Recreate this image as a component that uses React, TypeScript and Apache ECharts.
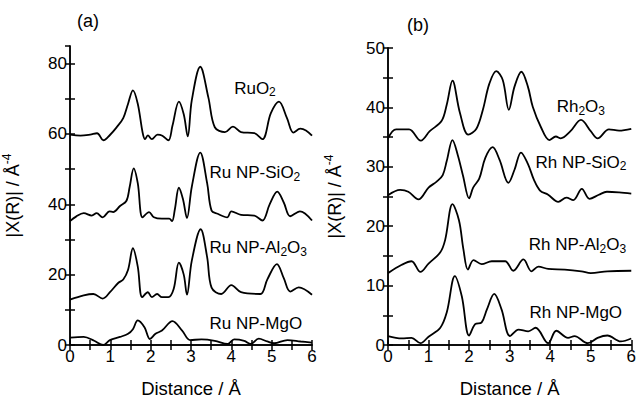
import React, { useEffect, useRef } from 'react';
import * as echarts from 'echarts';

const FONT = '"Liberation Sans", Arial, Helvetica, sans-serif';

// Panel (a): Ru samples, [distance (Å), |X(R)|]
const ruO2: number[][] = [[0,59.8],[0.26,59.5],[0.5,59.8],[0.67,60.2],[0.83,58.2],[0.99,59.7],[1.15,61.8],[1.32,64.5],[1.44,68.6],[1.56,72.4],[1.68,68.6],[1.80,60.4],[1.86,58.5],[1.93,59.6],[2.03,58.5],[2.17,59.8],[2.29,59.5],[2.44,58.2],[2.54,62.3],[2.70,69.2],[2.82,65.6],[2.92,59.3],[3.02,69.6],[3.23,79.1],[3.43,70.4],[3.59,61.9],[3.84,60.5],[4.04,62.1],[4.24,60.5],[4.57,60.2],[4.77,58.5],[4.98,65.9],[5.18,69.2],[5.38,64.5],[5.54,60.4],[5.71,61.5],[5.85,61],[6,59.5]];
const ruSiO2: number[][] = [[0,35.2],[0.15,36.5],[0.34,37.5],[0.54,36.8],[0.66,37.5],[0.81,36.3],[0.98,38.0],[1.07,37.8],[1.24,39.5],[1.4,41],[1.48,45],[1.58,50.2],[1.68,46],[1.80,36.3],[1.96,37.8],[2.08,36.3],[2.28,35.9],[2.46,35.9],[2.53,35.2],[2.6,38.6],[2.70,44.7],[2.8,41.5],[2.90,36.1],[3.02,45],[3.23,54.7],[3.4,46],[3.51,38.2],[3.66,37.3],[3.9,36.3],[4.0,38.0],[4.24,37.0],[4.57,36.8],[4.77,35.4],[4.95,40],[5.14,43.6],[5.3,40.5],[5.46,36.6],[5.7,38],[6,35.4]];
const ruAl2O3: number[][] = [[0,12.9],[0.34,14.1],[0.58,14.5],[0.81,13.2],[0.99,15],[1.2,17.7],[1.32,18.6],[1.44,21.4],[1.56,27.5],[1.68,22.3],[1.79,13.6],[1.93,15],[2.03,13.6],[2.16,14.5],[2.28,13.6],[2.44,13.6],[2.57,15.9],[2.70,23.4],[2.82,20],[2.9,14.3],[3.02,24],[3.24,32.9],[3.4,25],[3.51,16.3],[3.75,14.5],[4.0,17],[4.24,15],[4.72,14.5],[4.89,18.6],[5.13,23],[5.3,19],[5.46,15.2],[5.67,16.4],[6,14.3]];
const ruMgO: number[][] = [[0,2.1],[0.34,2.3],[0.6,1.2],[0.82,0],[0.99,1.4],[1.24,2.3],[1.44,3.2],[1.56,4.5],[1.68,7.0],[1.85,5],[1.98,1.7],[2.12,3.2],[2.28,4.1],[2.54,6.8],[2.78,4.1],[2.98,1.4],[3.26,1.6],[3.59,1.2],[3.91,0.3],[4.07,1.6],[4.32,1.2],[4.48,0.3],[4.68,1.8],[4.89,1],[5.06,0.5],[5.39,1.4],[5.72,1],[6,0.7]];

// Panel (b): Rh samples
const rh2O3: number[][] = [[0,34.8],[0.2,36.3],[0.52,36.3],[0.81,34.4],[1.03,36.0],[1.32,37.7],[1.45,40.5],[1.59,44.5],[1.77,39.2],[1.98,35.4],[2.18,36.4],[2.34,39.6],[2.5,44],[2.67,46.1],[2.83,44.6],[2.98,39.6],[3.12,43.5],[3.29,46.0],[3.45,43.5],[3.57,40.1],[3.77,36.7],[3.98,34.5],[4.14,35.1],[4.26,34.8],[4.5,36],[4.76,37.9],[5.0,36],[5.17,34.8],[5.45,36.3],[5.7,36.1],[6,36.4]];
const rhSiO2: number[][] = [[0,25.2],[0.3,26.1],[0.5,25.8],[0.75,24.5],[1.0,26.5],[1.2,27.5],[1.35,28.6],[1.45,31],[1.59,34.5],[1.72,32],[1.85,28.5],[2.0,24.7],[2.1,26.5],[2.25,28],[2.4,31.5],[2.58,33.3],[2.75,31.2],[2.97,27.3],[3.12,29.5],[3.28,32.4],[3.45,30.5],[3.6,27.8],[3.75,26],[3.95,25.3],[4.2,24.1],[4.4,24.8],[4.57,24.4],[4.78,26.3],[4.97,24.6],[5.2,25.3],[5.4,25.8],[5.7,25.7],[6,25.5]];
const rhAl2O3: number[][] = [[0,12.1],[0.34,13.5],[0.58,14.1],[0.8,12.3],[1.0,13.7],[1.29,15.6],[1.41,17.7],[1.59,23.7],[1.75,21],[1.86,16.1],[1.97,12.7],[2.11,14.3],[2.31,13.6],[2.56,14.1],[2.89,14.1],[3.09,12.5],[3.34,14.4],[3.54,12.4],[3.71,13.2],[3.95,12.8],[4.36,12.7],[4.77,12.4],[5.0,12.1],[5.41,12.4],[6,12.5]];
const rhMgO: number[][] = [[0,1.5],[0.34,1.1],[0.58,1.2],[0.8,0.3],[1.0,1.4],[1.29,2.9],[1.45,5.5],[1.65,11.6],[1.82,8.2],[2.0,1.6],[2.15,3.5],[2.31,3.8],[2.44,6],[2.62,8.6],[2.8,6],[3.01,1.5],[3.22,2.6],[3.46,2.3],[3.64,2.9],[3.95,0.3],[4.15,2.4],[4.44,1.2],[4.6,1.5],[4.93,0.3],[5.17,1.2],[5.41,1.6],[5.74,0.6],[6,1.1]];

const seriesA = [ruO2, ruSiO2, ruAl2O3, ruMgO];
const seriesB = [rh2O3, rhSiO2, rhAl2O3, rhMgO];

const namesA = ['RuO{s|2}', 'Ru NP-SiO{s|2}', 'Ru NP-Al{s|2}O{s|3}', 'Ru NP-MgO'];
const namesB = ['Rh{s|2}O{s|3}', 'Rh NP-SiO{s|2}', 'Rh NP-Al{s|2}O{s|3}', 'Rh NP-MgO'];
// left edge of each label, in data units
const labelPosA: number[][] = [[4.07, 73], [3.46, 49], [3.46, 27.6], [3.46, 6]];
const labelPosB: number[][] = [[4.16, 40.1], [3.64, 30.8], [3.47, 16.9], [3.49, 5.4]];

const xTitle = 'Distance / Å';
const yTitle = '|X(R)| / Å{p|-4}';

export default function App() {
  const ref = useRef<HTMLDivElement>(null);
  useEffect(() => {
    if (!ref.current) return;
    const chart = echarts.init(ref.current, undefined, { renderer: 'svg' });
    const black = '#000';
    const axisLine = { show: true, lineStyle: { color: black, width: 1.5 } };
    const tick = { show: true, inside: true, length: 5, lineStyle: { color: black, width: 1.5 } };
    const labelStyle = { color: black, fontSize: 17, fontFamily: FONT };

    const xAxes: any[] = [];
    const yAxes: any[] = [];
    [0, 1].forEach((g) => {
      xAxes.push({
        type: 'value', gridIndex: g, min: 0, max: 6, interval: 0.5, position: 'bottom',
        axisLine, axisTick: tick, splitLine: { show: false },
        axisLabel: { ...labelStyle, margin: 3, formatter: (v: number) => (Number.isInteger(v) ? String(v) : '') },
        name: xTitle, nameLocation: 'middle', nameGap: 34,
        nameTextStyle: { ...labelStyle, fontSize: 18.5 },
      });
      xAxes.push({
        type: 'value', gridIndex: g, min: 0, max: 6, interval: 0.5, position: 'top',
        axisLine, axisTick: tick, splitLine: { show: false }, axisLabel: { show: false },
      });
      const ymax = g === 0 ? 85 : 50;
      const yint = g === 0 ? 10 : 5;
      const ylab = g === 0 ? 20 : 10;
      yAxes.push({
        type: 'value', gridIndex: g, min: 0, max: ymax, interval: yint, position: 'left',
        axisLine, axisTick: tick, splitLine: { show: false },
        axisLabel: { ...labelStyle, margin: 3, showMaxLabel: g === 1,
          formatter: (v: number) => (v % ylab === 0 && v <= (g === 0 ? 80 : 50) ? String(v) : '') },
        name: yTitle, nameLocation: 'middle', nameGap: g === 0 ? 45 : 41, nameRotate: 90,
        nameTextStyle: { ...labelStyle, fontSize: 18, lineHeight: 24,
          rich: { p: { fontSize: 12, lineHeight: 12, verticalAlign: 'top', fontFamily: FONT, color: black } } },
      });
      yAxes.push({
        type: 'value', gridIndex: g, min: 0, max: ymax, interval: yint, position: 'right',
        axisLine, axisTick: tick, splitLine: { show: false }, axisLabel: { show: false },
      });
    });

    const series: any[] = [];
    [seriesA, seriesB].forEach((set, g) => {
      set.forEach((data) => {
        series.push({
          type: 'line', xAxisIndex: g * 2, yAxisIndex: g * 2, data, showSymbol: false,
          smooth: 0.35, lineStyle: { color: black, width: 1.8 }, silent: true,
        });
      });
    });

    const panelLabels: any[] = [
      { type: 'text', left: 77, top: 12, style: { text: '(a)', fontSize: 18, fontFamily: FONT, fill: black } },
      { type: 'text', left: 407, top: 16, style: { text: '(b)', fontSize: 18, fontFamily: FONT, fill: black } },
    ];

    chart.setOption({
      animation: false,
      backgroundColor: '#fff',
      grid: [
        { left: 66, top: 46, width: 246, height: 312 },
        { left: 388, top: 48, width: 244, height: 313 },
      ],
      xAxis: xAxes,
      yAxis: yAxes,
      series,
      graphic: panelLabels,
    });

    const sampleLabels: any[] = [];
    [[namesA, labelPosA], [namesB, labelPosB]].forEach(([names, pos]: any, g) => {
      (pos as number[][]).forEach((p, i) => {
        const px = chart.convertToPixel({ xAxisIndex: g * 2, yAxisIndex: g * 2 } as any, p) as number[];
        sampleLabels.push({
          type: 'text', x: px[0], y: px[1], silent: true,
          style: {
            text: names[i], fill: black, fontSize: 17, fontFamily: FONT, lineHeight: 20,
            align: 'left', verticalAlign: 'middle',
            rich: { s: { fontSize: 12, lineHeight: 10, verticalAlign: 'bottom', fontFamily: FONT, fill: black } },
          },
        });
      });
    });
    chart.setOption({ graphic: [...panelLabels, ...sampleLabels] });

    return () => chart.dispose();
  }, []);
  return <div ref={ref} style={{ position: 'fixed', left: 0, top: 0, width: 639, height: 403, background: '#fff' }} />;
}
